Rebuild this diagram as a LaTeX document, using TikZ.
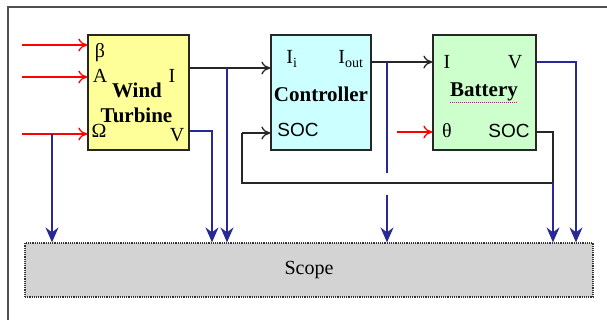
\documentclass[tikz,border=0pt]{standalone}
\usepackage{fontspec}
\setmainfont{Liberation Serif}
\newfontfamily\arialf{Liberation Sans}
\usetikzlibrary{arrows.meta}
\definecolor{wtfill}{RGB}{255,255,153}
\definecolor{ctfill}{RGB}{204,255,255}
\definecolor{btfill}{RGB}{204,255,204}
\definecolor{scfill}{RGB}{211,211,211}
\definecolor{sigblue}{RGB}{40,40,150}
\definecolor{framegray}{RGB}{80,80,80}
\tikzset{
  blockbox/.style={draw=black!85, line width=1.3pt, minimum height=115pt, inner sep=0pt},
  redarrow/.style={draw=red, line width=1.3pt, -{To[length=9pt,width=13pt]}},
  blackarrow/.style={draw=black!85, line width=1.3pt, -{To[length=9pt,width=13pt]}},
  blackline/.style={draw=black!85, line width=1.3pt},
  bluearrow/.style={draw=sigblue, line width=1.4pt, -{Stealth[length=15pt,width=13pt,inset=5pt]}},
  blueline/.style={draw=sigblue, line width=1.4pt},
  lbl/.style={font=\fontsize{20}{20}\selectfont, inner sep=0pt},
  slbl/.style={font=\arialf\fontsize{19}{19}\selectfont, inner sep=0pt},
  blbl/.style={font=\bfseries\fontsize{21}{21}\selectfont, inner sep=0pt}
}
\begin{document}
\begin{tikzpicture}[x=1pt,y=-1pt]
\useasboundingbox (0,0) rectangle (607,320);
% frame
\draw[framegray, line width=2pt] (8,320) -- (8,7) -- (607,7);
% blocks
\node[blockbox, fill=wtfill, minimum width=101pt] (wt) at (138.5,92.5) {};
\node[blockbox, fill=ctfill, minimum width=100pt] (ct) at (321,92.5) {};
\node[blockbox, fill=btfill, minimum width=103pt] (bt) at (484.5,92.5) {};
\node[draw=black!80, densely dotted, line width=1.2pt, fill=scfill, minimum width=568pt, minimum height=54pt, inner sep=0pt] (sc) at (309,270) {};
\node[font=\fontsize{20}{20}\selectfont] (sctext) at (309,270) {Scope};
% WT labels
\node[lbl] (wtb) at (100,53) {β};
\node[lbl] (wta) at (100,76) {A};
\node[lbl] (wti) at (172,76) {I};
\node[lbl] (wto) at (99,131) {Ω};
\node[lbl] (wtv) at (177,135) {V};
\node[blbl] (wtn1) at (137,90) {Wind};
\node[blbl] (wtn2) at (136.5,115) {Turbine};
% Controller labels
\node[lbl] (cti) at (292,59) {I\textsubscript{i}};
\node[lbl] (cto) at (351,59) {I\textsubscript{out}};
\node[blbl] (ctn) at (321,94) {Controller};
\node[slbl] (cts) at (298,130) {SOC};
% Battery labels
\node[lbl] (bti) at (447,62) {I};
\node[lbl] (btv) at (515,62) {V};
\node[blbl] (btn) at (484,92) {Battery};
\draw[magenta!70!blue, densely dotted, line width=1pt] (450,103) -- (518,103);
\node[lbl] (btt) at (447,131) {θ};
\node[slbl] (bts) at (509,131) {SOC};
% coordinates
\coordinate (inB) at (22,45);
\coordinate (inA) at (22,77);
\coordinate (inO) at (22,134);
\coordinate (jO) at (52,134);
\coordinate (inT) at (397,132);
\coordinate (yI) at (0,68);
\coordinate (yV) at (0,131);
\coordinate (yO) at (0,62);
\coordinate (yS) at (0,132);
\coordinate (yC) at (0,133);
\coordinate (jI) at (227,68);
\coordinate (kV) at (212,131);
\coordinate (jOut) at (387,62);
\coordinate (gapA) at (387,173);
\coordinate (gapB) at (387,195);
\coordinate (kBV) at (576,62);
\coordinate (kS) at (553,132);
\coordinate (kS2) at (553,183);
\coordinate (kF) at (242,183);
\coordinate (kF2) at (242,133);
% red inputs
\draw[redarrow] (inB) -- (inB -| wt.west);
\draw[redarrow] (inA) -- (inA -| wt.west);
\draw[redarrow] (inO) -- (inO -| wt.west);
\draw[redarrow] (inT) -- (inT -| bt.west);
% blue branch from Omega
\draw[bluearrow] (jO) -- (jO |- sc.north);
% WT I -> controller
\draw[blackarrow] (wt.east |- yI) -- (ct.west |- yI);
\draw[bluearrow] (jI) -- (jI |- sc.north);
% WT V -> scope
\draw[bluearrow] (wt.east |- yV) -- (kV) -- (kV |- sc.north);
% controller Iout -> battery
\draw[blackarrow] (ct.east |- yO) -- (bt.west |- yO);
\draw[blueline] (jOut) -- (gapA);
\draw[bluearrow] (gapB) -- (gapB |- sc.north);
% battery V -> scope
\draw[bluearrow] (bt.east |- yO) -- (kBV) -- (kBV |- sc.north);
% battery SOC feedback
\draw[blackline] (bt.east |- yS) -- (kS) -- (kS2) -- (kF) -- (kF2);
\draw[blackarrow] (kF2) -- (ct.west |- yC);
\draw[bluearrow] (kS2) -- (kS2 |- sc.north);
\end{tikzpicture}
\end{document}
